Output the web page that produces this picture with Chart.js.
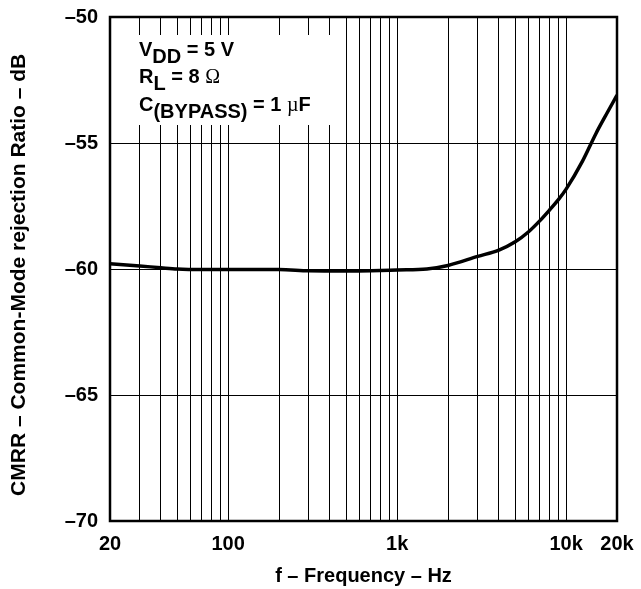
<!DOCTYPE html>
<html>
<head>
<meta charset="utf-8">
<script src="https://cdn.jsdelivr.net/npm/chart.js@4/dist/chart.umd.min.js"></script>
<style>
  html, body { margin: 0; padding: 0; background: #fff; }
  #wrap { width: 641px; height: 589px; }
</style>
</head>
<body>
<div id="wrap"><canvas id="grafico" width="641" height="589"></canvas></div>
<script>
// dados
const freqHz = [20, 30, 40, 50, 70, 100, 200, 300, 500, 700, 1000, 1500, 2000, 3000, 4000, 5000, 6000, 7000, 8000, 9000, 10000, 12500, 15000, 17500, 20000];
const cmrrDb = [-59.79, -59.88, -59.95, -60.0, -60.02, -60.02, -60.02, -60.07, -60.08, -60.07, -60.04, -60.0, -59.86, -59.5, -59.25, -58.92, -58.52, -58.08, -57.65, -57.25, -56.83, -55.72, -54.63, -53.8, -53.1];

const gridFreqs = [20, 30, 40, 50, 60, 70, 80, 90, 100, 200, 300, 400, 500, 600, 700, 800, 900, 1000, 2000, 3000, 4000, 5000, 6000, 7000, 8000, 9000, 10000, 20000];
const xTickValues = [20, 100, 1000, 10000, 20000];
const xTickLabels = ["20", "100", "1k", "10k", "20k"];
const yTickValues = [-70, -65, -60, -55, -50];
const yTickLabels = ["\u201370", "\u201365", "\u201360", "\u201355", "\u201350"];

const fonte = "'Liberation Sans', Arial, sans-serif";

// caixa com as condições de teste
const caixaTexto = {
  id: "caixaTexto",
  afterDatasetsDraw(chart) {
    const c = chart.ctx;
    const a = chart.chartArea;
    c.save();
    c.fillStyle = "#fff";
    c.fillRect(a.left + 1, 35, 230, 90);
    c.fillStyle = "#000";
    c.textBaseline = "alphabetic";
    const linhas = [
      [["V", 0], ["DD", 7], [" = 5 V", 0]],
      [["R", 0], ["L", 7], [" = 8 ", 0], ["\u03A9", 0, "serif"]],
      [["C", 0], ["(BYPASS)", 7], [" = 1 ", 0], ["\u00B5", 0, "serif"], ["F", 0]],
    ];
    const base = [56, 83, 111];
    linhas.forEach((partes, i) => {
      let x = 139;
      partes.forEach(([txt, desl, tipo]) => {
        c.font = tipo === "serif" ? "20px 'Liberation Serif', serif" : "bold 20px " + fonte;
        c.fillText(txt, x, base[i] + desl);
        x += c.measureText(txt).width;
      });
    });
    c.restore();
  },
  afterDraw(chart) {
    const c = chart.ctx;
    const a = chart.chartArea;
    c.save();
    c.strokeStyle = "#000";
    c.lineWidth = 2.5;
    c.strokeRect(a.left, a.top, a.right - a.left, a.bottom - a.top);
    c.restore();
  },
};

const ctx = document.getElementById("grafico").getContext("2d");

new Chart(ctx, {
  type: "line",
  data: {
    datasets: [
      {
        data: freqHz.map((f, i) => ({ x: f, y: cmrrDb[i] })),
        borderColor: "#000",
        borderWidth: 3.5,
        pointRadius: 0,
        cubicInterpolationMode: "monotone",
        fill: false,
      },
    ],
  },
  options: {
    responsive: false,
    animation: false,
    devicePixelRatio: 1,
    layout: { padding: { top: 17, right: 24, left: 0, bottom: 0 } },
    plugins: { legend: { display: false }, tooltip: { enabled: false } },
    scales: {
      x: {
        type: "logarithmic",
        min: 20,
        max: 20000,
        afterBuildTicks(scale) {
          scale.ticks = gridFreqs.map((v) => ({ value: v }));
        },
        afterFit(scale) {
          scale.height = 68;
          scale.paddingLeft = 0;
          scale.paddingRight = 0;
        },
        grid: { color: "#000", lineWidth: 1, drawTicks: false },
        border: { display: false },
        ticks: {
          autoSkip: false,
          maxRotation: 0,
          padding: 11,
          color: "#000",
          font: { family: fonte, size: 20, weight: "bold" },
          callback(v) {
            const i = xTickValues.indexOf(v);
            return i >= 0 ? xTickLabels[i] : "";
          },
        },
        title: {
          display: true,
          text: "f \u2013 Frequency \u2013 Hz",
          color: "#000",
          font: { family: fonte, size: 20, weight: "bold" },
          padding: { top: 0, bottom: 1 },
        },
      },
      y: {
        type: "linear",
        min: -70,
        max: -50,
        afterBuildTicks(scale) {
          scale.ticks = yTickValues.map((v) => ({ value: v }));
        },
        afterFit(scale) {
          scale.width = 110;
          scale.paddingTop = 0;
          scale.paddingBottom = 0;
        },
        grid: { color: "#000", lineWidth: 1, drawTicks: false },
        border: { display: false },
        ticks: {
          padding: 12,
          color: "#000",
          font: { family: fonte, size: 20, weight: "bold" },
          callback(v) {
            const i = yTickValues.indexOf(v);
            return i >= 0 ? yTickLabels[i] : "";
          },
        },
        title: {
          display: true,
          text: "CMRR \u2013 Common-Mode rejection Ratio \u2013 dB  ",
          color: "#000",
          font: { family: fonte, size: 21, weight: "bold" },
          padding: { top: 7, bottom: 0 },
        },
      },
    },
  },
  plugins: [caixaTexto],
});
</script>
</body>
</html>
